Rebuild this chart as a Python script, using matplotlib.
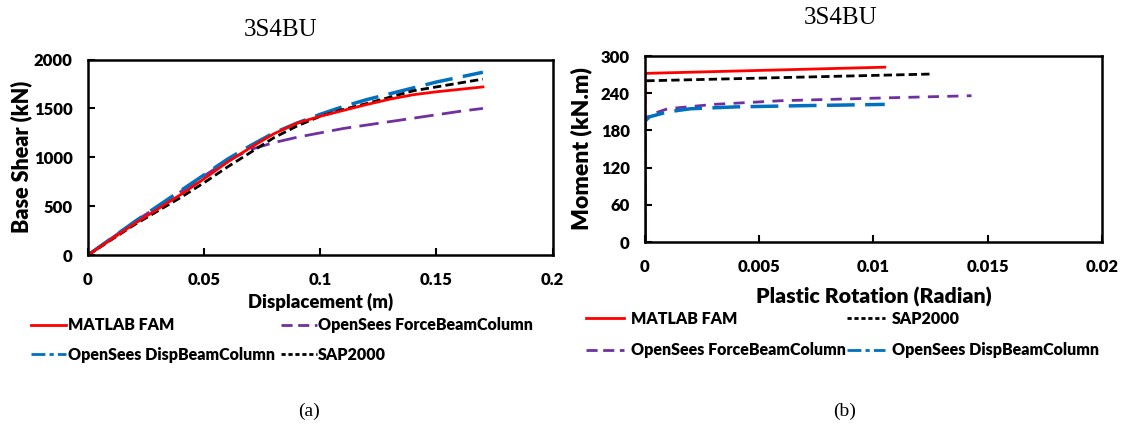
import matplotlib.pyplot as plt
from matplotlib.lines import Line2D

# (a) pushover curves: displacement (m) vs base shear (kN)
disp = [0, 0.02, 0.04, 0.05, 0.06, 0.07, 0.08, 0.09, 0.10, 0.11, 0.12, 0.13, 0.14, 0.15, 0.16, 0.17]
shear_matlab = [0, 320, 620, 780, 950, 1100, 1240, 1350, 1420, 1480, 1540, 1595, 1640, 1670, 1695, 1720]
shear_force = [0, 340, 650, 810, 965, 1080, 1150, 1205, 1250, 1295, 1330, 1365, 1400, 1435, 1470, 1500]
shear_disp = [0, 340, 660, 820, 980, 1120, 1250, 1350, 1440, 1520, 1590, 1650, 1710, 1770, 1820, 1870]
shear_sap = [0, 310, 590, 740, 900, 1050, 1200, 1320, 1420, 1490, 1550, 1615, 1680, 1720, 1760, 1800]

# (b) moment vs plastic rotation
rot_matlab = [0, 0, 0.0105]
mom_matlab = [0, 272, 282]
rot_sap = [0, 0, 0.0126]
mom_sap = [0, 260, 271]
rot_force = [0, 0, 0.0002, 0.001, 0.003, 0.006, 0.010, 0.0143]
mom_force = [0, 195, 205, 215, 222, 228, 232, 236]
rot_dispbc = [0, 0, 0.0002, 0.001, 0.002, 0.004, 0.007, 0.0105]
mom_dispbc = [0, 195, 202, 210, 215, 218, 220, 222]

red = '#ff0000'
purple = '#7030a0'
blue = '#0070c0'
black = '#000000'

plt.rcParams['font.family'] = ['Lato', 'DejaVu Sans']
plt.rcParams['font.weight'] = 'heavy'
plt.rcParams['axes.labelweight'] = 'heavy'

fig = plt.figure(figsize=(11.25, 4.33), dpi=100)

ax1 = fig.add_axes([0.0782, 0.411, 0.413, 0.4515])
ax1.plot(disp, shear_force, color=purple, lw=2, dashes=(7, 3))
ax1.plot(disp, shear_disp, color=blue, lw=2.5, dashes=(8, 3))
ax1.plot(disp, shear_sap, color=black, lw=2, dashes=(3, 1.5))
ax1.plot(disp, shear_matlab, color=red, lw=2)
ax1.set_xlim(0, 0.2)
ax1.set_ylim(0, 2000)
ax1.set_xticks([0, 0.05, 0.1, 0.15, 0.2])
ax1.set_xticklabels(['0', '0.05', '0.1', '0.15', '0.2'])
ax1.set_yticks([0, 500, 1000, 1500, 2000])
ax1.set_xlabel('Displacement (m)', fontsize=13.3, labelpad=4)
ax1.set_ylabel('Base Shear (kN)', fontsize=15.5, labelpad=1)

ax2 = fig.add_axes([0.5733, 0.441, 0.406, 0.4296])
ax2.plot(rot_force, mom_force, color=purple, lw=2, dashes=(4, 3))
ax2.plot(rot_dispbc, mom_dispbc, color=blue, lw=2.5, dashes=(8, 3))
ax2.plot(rot_sap, mom_sap, color=black, lw=2, dashes=(3, 1.5))
ax2.plot(rot_matlab, mom_matlab, color=red, lw=2)
ax2.set_xlim(0, 0.02)
ax2.set_ylim(0, 300)
ax2.set_xticks([0, 0.005, 0.01, 0.015, 0.02])
ax2.set_xticklabels(['0', '0.005', '0.01', '0.015', '0.02'])
ax2.set_yticks([0, 60, 120, 180, 240, 300])
ax2.set_xlabel('Plastic Rotation (Radian)', fontsize=15.3, labelpad=9)
ax2.set_ylabel('Moment (kN.m)', fontsize=16.5, labelpad=6)

for ax in (ax1, ax2):
    for s in ax.spines.values():
        s.set_linewidth(1.8)
    ax.tick_params(direction='in', length=5, width=1.5, labelsize=12)
    ax.tick_params(axis='x', pad=12)
    ax.tick_params(axis='y', pad=11)

# titles sit left of the axes centre in the original
fig.text(0.249, 0.93, '3S4BU', ha='center', va='center', fontsize=18,
         family='Liberation Serif', fontweight='normal')
fig.text(0.747, 0.958, '3S4BU', ha='center', va='center', fontsize=18,
         family='Liberation Serif', fontweight='normal')

h_matlab = Line2D([], [], color=red, lw=2)
h_force = Line2D([], [], color=purple, lw=2, dashes=(4, 2))
h_disp = Line2D([], [], color=blue, lw=2, dashes=(5, 1.5, 1.5, 1.5))
h_sap = Line2D([], [], color=black, lw=2, dashes=(1.5, 1))

fig.legend([h_matlab, h_disp, h_force, h_sap],
           ['MATLAB FAM', 'OpenSees DispBeamColumn', 'OpenSees ForceBeamColumn', 'SAP2000'],
           ncol=2, loc='upper left', bbox_to_anchor=(0.015, 0.3), frameon=False,
           fontsize=11.5, handlelength=2.2, handletextpad=0.1, columnspacing=0.4,
           labelspacing=0.85)
fig.legend([h_matlab, h_force, h_sap, h_disp],
           ['MATLAB FAM', 'OpenSees ForceBeamColumn', 'SAP2000', 'OpenSees DispBeamColumn'],
           ncol=2, loc='upper left', bbox_to_anchor=(0.508, 0.315), frameon=False,
           fontsize=11.5, handlelength=2.4, handletextpad=0.4, columnspacing=0.1,
           labelspacing=0.95)

fig.text(0.275, 0.04, '(a)', ha='center', fontsize=14, family='Liberation Serif', fontweight='normal')
fig.text(0.751, 0.04, '(b)', ha='center', fontsize=14, family='Liberation Serif', fontweight='normal')

fig.savefig('out.png', dpi=100)
